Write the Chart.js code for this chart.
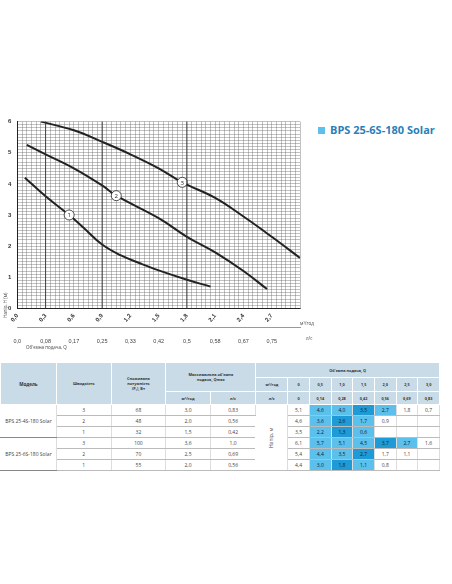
<!DOCTYPE html>
<html><head><meta charset="utf-8">
<script src="https://cdn.jsdelivr.net/npm/chart.js@4"></script>
<style>
body{margin:0;background:#fff;font-family:"Open Sans",sans-serif;width:452px;height:584px;position:relative;overflow:hidden}
#wrap{position:absolute;left:0;top:112px;width:322px;height:246px}
#title{position:absolute;left:318px;top:122px;font:bold 11px "Open Sans";color:#2a7fb8}
#title span{display:inline-block;width:7px;height:7px;background:#5bc0eb;margin-right:5px}
.sm{position:absolute;font:4.5px "Open Sans";color:#444}
table{position:absolute;left:38px;top:362px;border-collapse:collapse;font:5px "Open Sans";color:#444}
td{border:0.5px solid #fff;text-align:center;height:10px;padding:0}
th{background:#c9dbe6;font-weight:bold;font-size:3.8px;color:#333;border:0.5px solid #fff;padding:0}
tbody td{border-bottom:0.5px solid #bbb;border-right:0.5px solid #ddd}
.d{background:#1e9ad6;color:#123}.l{background:#5bc0eb;color:#123}
</style></head><body>
<div id="title"><span></span>BPS 25-6S-180 Solar</div>
<div id="wrap"><canvas id="c"></canvas></div>
<div class="sm" style="left:300px;top:320px">м³/год</div>
<div class="sm" style="left:306px;top:335px">л/с</div>
<div class="sm" style="left:26px;top:344px">Об'ємна подача, Q</div>
<div class="sm" style="left:2px;top:300px;transform:rotate(-90deg);transform-origin:left top;top:318px">Напір, Н (м)</div>
<table id="t"></table>
<script>
const xTicks=[0,0.3,0.6,0.9,1.2,1.5,1.8,2.1,2.4,2.7];
const lsLabels=["0,0","0,08","0,17","0,25","0,33","0,42","0,5","0,58","0,67","0,75"];
const curve1=[[0.08,4.2],[0.3,3.6],[0.55,3.0],[0.7,2.6],[0.9,2.05],[1.1,1.7],[1.3,1.45],[1.5,1.22],[1.8,0.92],[2.05,0.7]];
const curve2=[[0.1,5.25],[0.3,4.95],[0.6,4.5],[0.9,3.95],[1.05,3.62],[1.5,2.9],[1.8,2.3],[2.1,1.8],[2.4,1.2],[2.65,0.62]];
const curve3=[[0.25,6.0],[0.6,5.72],[0.9,5.35],[1.2,4.95],[1.5,4.5],[1.75,4.05],[2.1,3.55],[2.4,2.95],[2.7,2.3],[3.0,1.62]];
const markers=[[0.55,3.0,"1"],[1.05,3.62,"2"],[1.75,4.05,"3"]];
const models=["BPS 25-4S-180 Solar","BPS 25-6S-180 Solar"];
const speeds=["3","2","1","3","2","1"];
const power=["68","48","32","100","70","55"];
const qmaxM3=["3,0","2,0","1,5","3,6","2,5","2,0"];
const qmaxLs=["0,83","0,56","0,42","1,0","0,69","0,56"];
const qM3=["0","0,5","1,0","1,5","2,0","2,5","3,0"];
const qLs=["0","0,14","0,28","0,42","0,56","0,69","0,83"];
const heads=[["5,1","4,6","4,0","3,5","2,7","1,8","0,7"],["4,6","3,6","2,6","1,7","0,9","",""],["3,5","2,2","1,3","0,6","","",""],["6,1","5,7","5,1","4,5","3,7","2,7","1,6"],["5,4","4,4","3,5","2,7","1,7","1,1",""],["4,4","3,0","1,8","1,1","0,8","",""]];
const shade=[["","l","l","d","l","",""],["","l","d","l","","",""],["","l","d","l","","",""],["","l","l","l","d","l",""],["","l","l","d","","",""],["","l","d","l","","",""]];
const pts=a=>a.map(p=>({x:p[0],y:p[1]}));
const lbl={id:'lbl',afterDatasetsDraw(ch){const c=ch.ctx,xs=ch.scales.x,ys=ch.scales.y;c.save();
markers.forEach(m=>{const x=xs.getPixelForValue(m[0]),y=ys.getPixelForValue(m[1]);c.beginPath();c.arc(x,y,5,0,7);c.fillStyle='#fff';c.fill();c.lineWidth=0.8;c.strokeStyle='#222';c.stroke();c.fillStyle='#222';c.font='6px Open Sans';c.textAlign='center';c.textBaseline='middle';c.fillText(m[2],x,y+0.5);});
[0.3,0.9,1.8].forEach(v=>{const x=xs.getPixelForValue(v);c.beginPath();c.moveTo(x,ys.top);c.lineTo(x,ys.bottom);c.strokeStyle='#333';c.lineWidth=0.9;c.stroke();});
c.restore();}};
const ds=[curve1,curve2,curve3].map(d=>({data:pts(d),borderColor:'#222',borderWidth:2,pointRadius:0,tension:0.4,fill:false}));
new Chart(document.getElementById('c'),{type:'line',data:{datasets:ds},plugins:[lbl],
options:{responsive:true,maintainAspectRatio:false,animation:false,layout:{padding:{left:2,right:22,top:8,bottom:10}},
plugins:{legend:{display:false},tooltip:{enabled:false}},
scales:{
x:{type:'linear',min:0,max:3,afterBuildTicks:a=>{a.ticks=[];for(let i=0;i<=60;i++)a.ticks.push({value:i*0.05});},
grid:{color:'#666',lineWidth:0.4,drawTicks:false},border:{color:'#222',width:1},
ticks:{autoSkip:false,padding:4,font:{size:6,weight:'bold'},color:'#333',callback:v=>{const i=xTicks.findIndex(t=>Math.abs(t-v)<1e-6);return i<0?'':xTicks[i].toFixed(1).replace('.',',');}}},
x2:{type:'linear',position:'bottom',min:0,max:3,afterBuildTicks:a=>{a.ticks=xTicks.map(v=>({value:v}));},
grid:{display:false},border:{color:'#555',width:0.6},
ticks:{autoSkip:false,padding:3,font:{size:5.5},color:'#444',callback:(v,i)=>lsLabels[i]}},
y:{min:0,max:6,afterBuildTicks:a=>{a.ticks=[];for(let i=0;i<=60;i++)a.ticks.push({value:i*0.1});},
grid:{color:'#666',lineWidth:0.4,drawTicks:false},border:{color:'#222',width:1},
ticks:{autoSkip:false,padding:6,font:{size:6,weight:'bold'},color:'#333',callback:v=>Math.abs(v-Math.round(v))<1e-6?Math.round(v):''}}
}}});
// table
let h='<colgroup><col style="width:49px"><col style="width:48px"><col style="width:48px"><col style="width:39px"><col style="width:40px"><col style="width:28px">'+'<col style="width:19px">'.repeat(7)+'</colgroup>';
h+='<thead><tr><th rowspan="3" style="height:40px;font-size:4.5px">Модель</th><th rowspan="3">Швидкість</th><th rowspan="3">Споживана<br>потужність<br>(P₁), Вт</th><th colspan="2" rowspan="2">Максимальна об\'ємна<br>подача, Qmax</th><th colspan="8" style="height:14px">Об\'ємна подача, Q</th></tr>';
h+='<tr><th style="height:13px">м³/год</th>'+qM3.map(v=>'<th>'+v+'</th>').join('')+'</tr>';
h+='<tr><th style="height:12px">м³/год</th><th>л/с</th><th>л/с</th>'+qLs.map(v=>'<th>'+v+'</th>').join('')+'</tr></thead><tbody>';
for(let r=0;r<6;r++){h+='<tr>';if(r%3==0)h+='<td rowspan="3" style="border-bottom:0.5px solid #888">'+models[r/3]+'</td>';
h+='<td>'+speeds[r]+'</td><td>'+power[r]+'</td><td>'+qmaxM3[r]+'</td><td>'+qmaxLs[r]+'</td>';
if(r==0)h+='<td rowspan="6"><div style="transform:rotate(-90deg);white-space:nowrap">Напір, м</div></td>';
heads[r].forEach((v,i)=>{h+='<td class="'+shade[r][i]+'">'+v+'</td>';});h+='</tr>';}
h+='</tbody>';
document.getElementById('t').innerHTML=h;
document.getElementById('t').style.left='0px';
document.getElementById('t').style.width='440px';
document.getElementById('t').style.borderBottom='1.5px solid #333';
</script></body></html>
